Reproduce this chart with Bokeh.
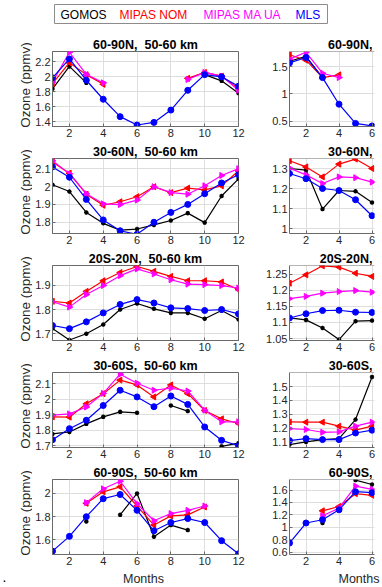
import numpy as np
from bokeh.plotting import figure
from bokeh.layouts import row, column
from bokeh.models import Range1d, FixedTicker, CustomJSTickFormatter, Span, Div
from bokeh.embed import file_html
from bokeh.resources import INLINE
from bokeh.core.properties import value

nan = np.nan

# ---------------- data ----------------
months_left = list(range(1, 13))
months_right = list(range(1, 7))

series_names = ["GOMOS", "MIPAS NOM", "MIPAS MA UA", "MLS"]
series_colors = ["#000000", "#ff0000", "#ff00ff", "#0000ff"]

titles_left = ["60-90N,\u00a0 50-60 km", "30-60N,\u00a0 50-60 km", "20S-20N,\u00a0 50-60 km",
               "30-60S,\u00a0 50-60 km", "60-90S,\u00a0 50-60 km"]
titles_right = ["60-90N,", "30-60N,", "20S-20N,", "30-60S,", "60-90S,"]
x_label = "Months"
y_label = "Ozone (ppmv)"

xticks_left = [2, 4, 6, 8, 10, 12]
xticks_right = [2, 4, 6]

# row 1 : 60-90N
r1_left_gomos = [1.84, 2.14, 1.92, nan, nan, nan, nan, nan, nan, 2.03, 1.947, 1.78]
r1_left_nom   = [1.91, 2.19, 2.03, 1.90, nan, nan, nan, nan, 1.98, 2.06, 2.01, 1.84]
r1_left_maua  = [1.93, 2.33, 2.035, 1.92, nan, nan, nan, nan, 1.965, 2.06, 2.01, 1.82]
r1_left_mls   = [1.987, 2.24, 1.955, 1.70, 1.467, 1.355, 1.39, 1.555, 1.82, 2.03, 2.0, 1.875]
r1_right_gomos = [1.60, 1.69, 1.30, nan, nan, nan]
r1_right_nom   = [1.72, 1.62, 1.30, 1.35, nan, nan]
r1_right_maua  = [1.64, 1.765, 1.38, 1.30, nan, nan]
r1_right_mls   = [1.57, 1.67, 1.30, 0.81, 0.457, 0.41]
r1_yticks_left = [1.4, 1.6, 1.8, 2.0, 2.2]
r1_yticks_right = [0.5, 1.0, 1.5]

# row 2 : 30-60N
r2_left_gomos = [2.01, 1.972, 1.855, 1.794, 1.756, 1.762, 1.785, 1.81, 1.851, 1.798, 1.947, 2.043]
r2_left_nom   = [2.138, 2.075, 1.957, 1.895, 1.915, 1.943, 1.999, 1.966, 1.991, 1.981, 2.004, 2.087]
r2_left_maua  = [2.144, 2.071, 1.96, 1.903, 1.899, 1.924, 1.999, 1.966, 1.957, 2.004, 2.062, 2.10]
r2_left_mls   = [2.11, 2.052, 1.928, 1.813, 1.752, 1.733, 1.80, 1.855, 1.90, 1.96, 2.02, 2.066]
r2_right_gomos = [1.30, 1.292, 1.097, 1.19, 1.186, 1.13]
r2_right_nom   = [1.339, 1.308, 1.258, 1.322, 1.347, 1.30]
r2_right_maua  = [1.302, 1.268, 1.225, 1.258, 1.254, 1.232]
r2_right_mls   = [1.275, 1.249, 1.20, 1.19, 1.144, 1.064]
r2_yticks_left = [1.8, 1.9, 2.0, 2.1]
r2_yticks_right = [1.0, 1.1, 1.2, 1.3]

# row 3 : 20S-20N
r3_left_gomos = [1.722, 1.674, 1.70, 1.738, 1.80, 1.825, 1.803, 1.786, 1.786, 1.762, 1.796, 1.759]
r3_left_nom   = [1.834, 1.827, 1.875, 1.919, 1.953, 1.978, 1.958, 1.937, 1.919, 1.919, 1.914, 1.882]
r3_left_maua  = [1.832, 1.81, 1.862, 1.899, 1.94, 1.968, 1.947, 1.923, 1.905, 1.903, 1.899, 1.889]
r3_left_mls   = [1.734, 1.721, 1.749, 1.786, 1.821, 1.841, 1.827, 1.807, 1.804, 1.796, 1.80, 1.782]
r3_right_gomos = [1.114, 1.108, 1.083, 1.047, 1.104, 1.106]
r3_right_nom   = [1.222, 1.248, 1.276, 1.272, 1.253, 1.243]
r3_right_maua  = [1.174, 1.181, 1.191, 1.196, 1.199, 1.194]
r3_right_mls   = [1.114, 1.127, 1.137, 1.138, 1.132, 1.131]
r3_yticks_left = [1.7, 1.8, 1.9]
r3_yticks_right = [1.05, 1.1, 1.15, 1.2, 1.25]

# row 4 : 30-60S
r4_left_gomos = [1.776, 1.789, 1.841, 1.886, 1.918, 1.912, nan, 1.959, 1.923, nan, 1.696, 1.717]
r4_left_nom   = [1.886, 1.884, 1.97, 2.035, 2.122, 2.091, 2.014, 2.091, 2.035, 1.927, 1.873, 1.843]
r4_left_maua  = [1.897, 1.905, 1.949, 2.037, 2.16, 2.102, 2.057, 2.07, 2.052, 1.929, 1.854, 1.854]
r4_left_mls   = [1.739, 1.81, 1.864, 1.959, 2.057, 2.014, 1.951, 2.02, 1.966, 1.821, 1.735, 1.70]
r4_right_gomos = [1.081, 1.10, 1.117, 1.124, 1.262, 1.57]
r4_right_nom   = [1.245, 1.243, 1.243, 1.214, 1.185, 1.214]
r4_right_maua  = [1.197, 1.19, 1.17, 1.173, 1.214, 1.243]
r4_right_mls   = [1.11, 1.124, 1.117, 1.117, 1.165, 1.185]
r4_yticks_left = [1.7, 1.8, 1.9, 2.0, 2.1]
r4_yticks_right = [1.1, 1.2, 1.3, 1.4, 1.5]

# row 5 : 60-90S
r5_left_gomos = [nan, nan, 1.759, nan, 1.816, 2.0, 1.628, 1.728, 1.685, nan, nan, nan]
r5_left_nom   = [nan, nan, 1.915, 2.014, 2.057, 1.892, 1.728, 1.807, 1.816, 1.884, nan, nan]
r5_left_maua  = [nan, nan, 1.921, 2.04, 2.105, 1.912, 1.765, 1.827, 1.855, 1.892, nan, nan]
r5_left_mls   = [1.504, 1.631, 1.80, 1.955, 1.991, 1.855, 1.679, 1.75, 1.784, 1.75, 1.594, 1.481]
r5_right_gomos = [nan, nan, 1.068, nan, 1.76, 1.69]
r5_right_nom   = [nan, nan, 1.265, 1.334, 1.541, 1.515]
r5_right_maua  = [nan, nan, 1.185, 1.307, 1.664, 1.61]
r5_right_mls   = [0.744, 1.068, 1.121, 1.281, 1.573, 1.557]
r5_yticks_left = [1.6, 1.8, 2.0]
r5_yticks_right = [0.6, 0.8, 1.0, 1.2, 1.4, 1.6]

rows_left = [
    (r1_left_gomos, r1_left_nom, r1_left_maua, r1_left_mls),
    (r2_left_gomos, r2_left_nom, r2_left_maua, r2_left_mls),
    (r3_left_gomos, r3_left_nom, r3_left_maua, r3_left_mls),
    (r4_left_gomos, r4_left_nom, r4_left_maua, r4_left_mls),
    (r5_left_gomos, r5_left_nom, r5_left_maua, r5_left_mls),
]
rows_right = [
    (r1_right_gomos, r1_right_nom, r1_right_maua, r1_right_mls),
    (r2_right_gomos, r2_right_nom, r2_right_maua, r2_right_mls),
    (r3_right_gomos, r3_right_nom, r3_right_maua, r3_right_mls),
    (r4_right_gomos, r4_right_nom, r4_right_maua, r4_right_mls),
    (r5_right_gomos, r5_right_nom, r5_right_maua, r5_right_mls),
]
yticks_left = [r1_yticks_left, r2_yticks_left, r3_yticks_left, r4_yticks_left, r5_yticks_left]
yticks_right = [r1_yticks_right, r2_yticks_right, r3_yticks_right, r4_yticks_right, r5_yticks_right]

# axis limits
ylim_left = [(1.335, 2.34), (1.737, 2.157), (1.672, 1.982), (1.689, 2.171), (1.475, 2.12)]
ylim_right = [(0.40, 1.78), (0.975, 1.35), (1.044, 1.277), (1.06, 1.602), (0.56, 1.77)]

# ---------------- style / layout ----------------
FONT = "Liberation Sans"
FRAME = "#6a6a6a"
GRID = "#dedede"
TXT = "#262626"
FRAME_H = 75
TOP_FIRST, TOP, BOTTOM = 23, 16, 16
LABEL_W = 32
markers = ["asterisk", "triangle", "triangle", "circle"]
angles = [0.0, np.pi / 2, -np.pi / 2, 0.0]
msizes = [4.5, 6, 6, 6]

fmt = CustomJSTickFormatter(code="var s = tick.toFixed(2); s = s.replace(/0+$/, ''); s = s.replace(/\\.$/, ''); return s;")


def make_panel(xs, series, title, ylim, yticks, xticks, xlim, side, top_border, bottom_border):
    left = side == "left"
    p = figure(frame_width=186 if left else 85, frame_height=FRAME_H,
               x_range=Range1d(*xlim), y_range=Range1d(*ylim),
               min_border_left=(50 - LABEL_W) if left else 37, min_border_right=14 if left else 8,
               min_border_top=top_border, min_border_bottom=bottom_border,
               toolbar_location=None, output_backend="svg")
    p.background_fill_color = "white"
    p.border_fill_color = "white"
    p.title.text = title
    p.title.text_font = FONT
    p.title.text_font_size = "12.5px"
    p.title.text_font_style = "bold"
    p.title.text_color = "#000000"
    p.title.align = "center" if left else "right"
    p.title.standoff = 0
    p.title.offset = 0 if left else 2
    for ax in (p.xaxis, p.yaxis):
        ax.major_label_text_font = FONT
        ax.major_label_text_font_size = "11px"
        ax.major_label_text_color = TXT
        ax.major_tick_in = 3
        ax.major_tick_out = 0
        ax.minor_tick_line_color = None
        ax.major_tick_line_color = FRAME
        ax.axis_line_color = FRAME
        ax.major_label_standoff = 2
    p.xaxis.ticker = FixedTicker(ticks=xticks)
    p.yaxis.ticker = FixedTicker(ticks=yticks)
    p.yaxis.formatter = fmt
    p.xgrid.ticker = FixedTicker(ticks=xticks)
    p.ygrid.ticker = FixedTicker(ticks=yticks)
    p.xgrid.grid_line_color = GRID
    p.ygrid.grid_line_color = GRID
    if left:
        p.outline_line_color = FRAME
    else:
        p.outline_line_color = None
        p.add_layout(Span(location=ylim[1], dimension="width", line_color=FRAME, line_width=1))
    for i, ys in enumerate(series):
        p.line(xs, ys, line_color=series_colors[i], line_width=1.2)
        p.scatter(xs, ys, marker=markers[i], angle=angles[i], size=msizes[i],
                  line_color=series_colors[i], fill_color=series_colors[i],
                  line_width=1.3 if i == 0 else 1)
    return p


def strip(width, height):
    s = figure(width=width, height=height, x_range=Range1d(0, width), y_range=Range1d(height, 0),
               toolbar_location=None, output_backend="svg", min_border=0)
    s.axis.visible = False
    s.grid.visible = False
    s.outline_line_color = None
    s.background_fill_color = "white"
    s.border_fill_color = "white"
    return s


# legend strip
leg = strip(380, 28)
leg.quad(left=[54], right=[327], top=[4], bottom=[23], fill_color="white", line_color="#8c8c8c", line_width=1)
leg.text(x=[60, 119, 203, 295], y=[14.5] * 4, text=series_names, text_color=series_colors,
         text_font=value(FONT), text_font_size="12px", text_baseline="middle", text_align="left")

rows = []
for r in range(5):
    top_b = TOP_FIRST if r == 0 else TOP
    pl = make_panel(months_left, rows_left[r], titles_left[r], ylim_left[r], yticks_left[r],
                    xticks_left, (1, 12), "left", top_b, BOTTOM)
    pr = make_panel(months_right, rows_right[r], titles_right[r], ylim_right[r], yticks_right[r],
                    xticks_right, (1, 6.15), "right", top_b, BOTTOM)
    rows.append(row(pl, pr, spacing=0))

# y-axis label strip (one label per row, centred a little above each frame centre)
grid_h = TOP_FIRST + 5 * FRAME_H + 4 * TOP + 5 * BOTTOM
lab = strip(LABEL_W, grid_h)
frame_tops = [TOP_FIRST + r * (FRAME_H + TOP + BOTTOM) for r in range(5)]
lab.text(x=[24.5] * 5, y=[t + FRAME_H / 2 - 4 for t in frame_tops], text=[y_label] * 5,
         angle=np.pi / 2, text_color=TXT, text_font=value(FONT), text_font_size="13.5px",
         text_baseline="middle", text_align="center")

# bottom strip with the x-axis labels
bot = strip(380, 17)
bot.text(x=[143], y=[8.5], text=[x_label], text_color=TXT, text_font=value(FONT),
         text_font_size="12.5px", text_baseline="middle", text_align="center")
bot.text(x=[379], y=[8.5], text=[x_label], text_color=TXT, text_font=value(FONT),
         text_font_size="12.5px", text_baseline="middle", text_align="right")
bot.text(x=[2], y=[6], text=["."], text_color="#000000", text_font=value(FONT),
         text_font_size="14px", text_baseline="middle", text_align="left")

redline = Div(width=1, height=587, styles={"background-color": "#dc5a5a"})
body = row(lab, column(*rows, spacing=0), spacing=0)
layout = row(column(leg, body, bot, spacing=0), redline, spacing=0)

open("out.html", "w").write(file_html(layout, INLINE))
